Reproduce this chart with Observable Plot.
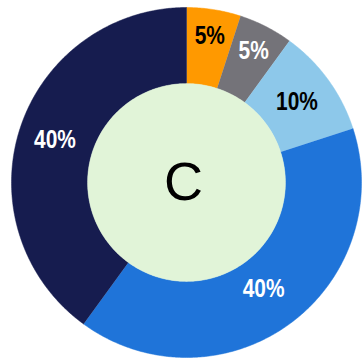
<!DOCTYPE html>
<html>
<head>
<meta charset="utf-8">
<script src="https://cdn.jsdelivr.net/npm/d3@7"></script>
<script src="https://cdn.jsdelivr.net/npm/@observablehq/plot@0.6"></script>
<style>
  html, body { margin: 0; padding: 0; background: #fff; }
</style>
</head>
<body>
<div id="chart"></div>
<script>
const categories = ["A1", "A2", "A3", "A4", "A5"];
const values = [5, 5, 10, 40, 40];
const labels = ["5%", "5%", "10%", "40%", "40%"];
const colors = ["#ff9900", "#747379", "#8dc8ea", "#1f74d9", "#161c4f"];
const labelColors = ["#000000", "#ffffff", "#000000", "#ffffff", "#ffffff"];
const centerLabel = ["C"];

// layout (radial placement of labels, as fraction of outer radius)
const labelRadius = [0.85, 0.845, 0.78, 0.75, 0.79];

const W = 363, H = 360;
const outerR = 1, innerR = 0.565;

const pie = d3.pie().sort(null).value(d => d.value);
const rows = categories.map((c, i) => ({cat: c, value: values[i], label: labels[i], color: colors[i], lc: labelColors[i], lr: labelRadius[i]}));
const arcs = pie(rows);

const polys = [];
arcs.forEach(a => {
  const n = Math.max(8, Math.ceil((a.endAngle - a.startAngle) / 0.01));
  const pts = [];
  for (let k = 0; k <= n; k++) {
    const t = a.startAngle + (a.endAngle - a.startAngle) * k / n;
    pts.push([outerR * Math.sin(t), outerR * Math.cos(t)]);
  }
  for (let k = n; k >= 0; k--) {
    const t = a.startAngle + (a.endAngle - a.startAngle) * k / n;
    pts.push([innerR * Math.sin(t), innerR * Math.cos(t)]);
  }
  pts.forEach(p => polys.push({cat: a.data.cat, color: a.data.color, x: p[0], y: p[1]}));
});

const labelPts = arcs.map(a => {
  const m = (a.startAngle + a.endAngle) / 2;
  return {x: a.data.lr * Math.sin(m), y: a.data.lr * Math.cos(m), label: a.data.label, lc: a.data.lc};
});

const disc = [];
for (let k = 0; k <= 360; k++) {
  const t = k * Math.PI / 180;
  disc.push({x: innerR * Math.sin(t), y: innerR * Math.cos(t)});
}

const chart = Plot.plot({
  width: W,
  height: H,
  marginLeft: 11,
  marginRight: 2,
  marginTop: 7,
  marginBottom: 3,
  x: {domain: [-1, 1], axis: null},
  y: {domain: [-1, 1], axis: null},
  style: {background: "#fff"},
  marks: [
    Plot.line(polys, {x: "x", y: "y", z: "cat", fill: d => d.color, stroke: d => d.color, strokeWidth: 0.5, curve: "linear"}),
    Plot.line(disc, {x: "x", y: "y", fill: "#e1f4d8", stroke: "#e1f4d8", strokeWidth: 0.5}),
    Plot.text(labelPts, {x: "x", y: "y", text: "label", fill: d => d.lc, fontSize: 25.5, fontWeight: "bold",
      fontFamily: "'Liberation Sans', Arial, sans-serif", textAnchor: "middle", lineAnchor: "middle"}),
    Plot.text(centerLabel, {x: () => 0, y: () => 0, text: d => d, fill: "#000", fontSize: 54,
      fontFamily: "'Liberation Sans', Arial, sans-serif", textAnchor: "middle", lineAnchor: "middle", dx: -3})
  ]
});

// narrow the percentage labels (Arial Narrow look)
chart.querySelectorAll("text").forEach(t => {
  if (!t.textContent.includes("%")) return;
  let tr = t.getAttribute("transform");
  if (!tr) {
    const x = t.getAttribute("x") || 0, y = t.getAttribute("y") || 0;
    t.removeAttribute("x"); t.removeAttribute("y");
    tr = `translate(${x},${y})`;
  }
  t.setAttribute("transform", tr + " scale(0.82,1)");
});

document.getElementById("chart").appendChild(chart);
</script>
</body>
</html>
